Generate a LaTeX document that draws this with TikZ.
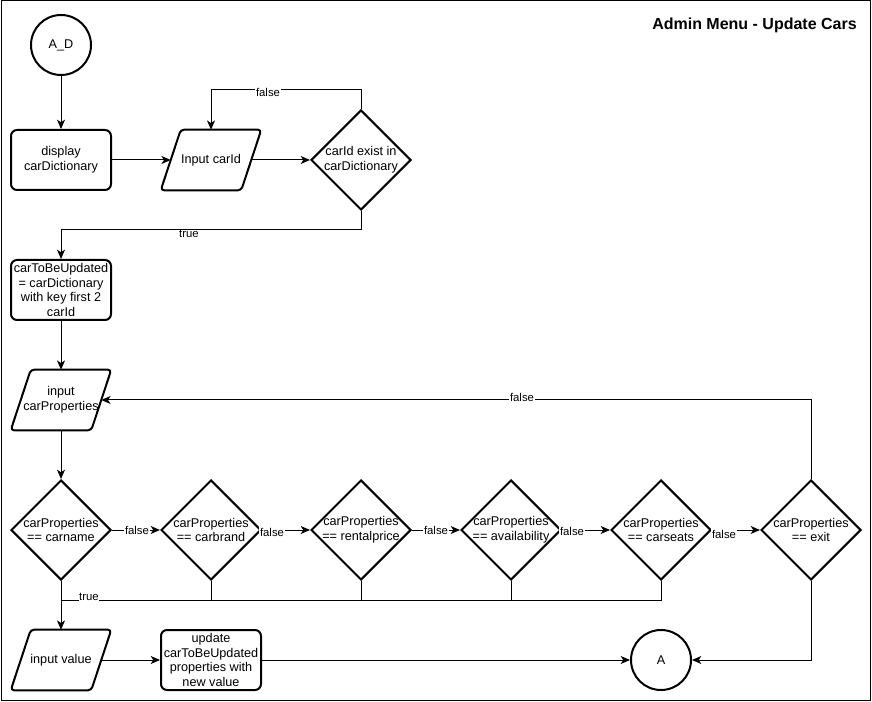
\documentclass[tikz,border=0pt]{standalone}
\usepackage{fontspec}
\setmainfont{Liberation Sans}
\usetikzlibrary{shapes.geometric,arrows.meta}
\begin{document}
\begin{tikzpicture}[x=0.75pt,y=-0.75pt,
    box/.style={draw,line width=1.5pt,rounded corners=4.5pt,minimum width=75pt,minimum height=45pt,
      inner sep=1pt,align=center,font=\fontsize{9.5}{11}\selectfont},
    io/.style={minimum width=60pt,minimum height=45pt,inner sep=1pt,align=center,
      font=\fontsize{9.5}{11}\selectfont,
      append after command={\pgfextra{\draw[line width=1.5pt,rounded corners=2.5pt]
        ([xshift=7.5pt]\tikzlastnode.north west) -- ([xshift=7.5pt]\tikzlastnode.north east)
        -- ([xshift=-7.5pt]\tikzlastnode.south east) -- ([xshift=-7.5pt]\tikzlastnode.south west) -- cycle;}}},
    decision/.style={draw,line width=1.5pt,diamond,minimum width=75pt,minimum height=75pt,
      inner sep=-4pt,align=center,font=\fontsize{9.5}{11}\selectfont},
    term/.style={draw,line width=1.5pt,circle,minimum size=45pt,inner sep=0pt,
      font=\fontsize{9.5}{11}\selectfont},
    flow/.style={line width=0.75pt,-{Stealth[length=7pt,width=6pt,inset=2pt]}},
    wire/.style={line width=0.75pt},
    tag/.style={fill=white,inner sep=0.5pt,font=\fontsize{8.5}{9}\selectfont}]
    \useasboundingbox (0,0) rectangle (872,702);
    \draw[line width=0.75pt] (1,1) rectangle (870,700);
    \node[anchor=east,inner sep=0pt,font=\bfseries\fontsize{12}{14}\selectfont] (title) at (857,25) {Admin Menu - Update Cars};

    % Ablauf oben
    \node[term] (start) at (61,45) {A\_D};
    \node[box] (show) at (61,160) {display\\carDictionary};
    \node[io] (getid) at (211,160) {Input carId};
    \node[decision] (exists) at (361,160) {carId exist in\\carDictionary};
    \node[box] (pick) at (61,290) {carToBeUpdated\\= carDictionary\\with key first 2\\carId};
    \node[io] (getprop) at (61,400) {input\\carProperties};

    \draw[flow] (start) -- (show);
    \draw[flow] (show) -- (getid);
    \draw[flow] (getid) -- (exists);
    \draw[flow] (exists.north) -- (361,90) -- (211,90) -- (getid.north);
    \node[tag] at (268,92) {false};
    \draw[flow] (exists.south) -- (361,230) -- (61,230) -- (pick.north);
    \node[tag] at (189,234) {true};
    \draw[flow] (pick) -- (getprop);

    % Vergleiche
    \node[decision] (isname) at (61,530) {carProperties\\== carname};
    \node[decision] (isbrand) at (211,530) {carProperties\\== carbrand};
    \node[decision] (isprice) at (361,530) {carProperties\\== rentalprice};
    \node[decision] (isavail) at (511,530) {carProperties\\== availability};
    \node[decision] (isseats) at (661,530) {carProperties\\== carseats};
    \node[decision] (isexit) at (811,530) {carProperties\\== exit};

    \draw[flow] (getprop) -- (isname);
    \draw[flow] (isname) -- (isbrand);
    \node[tag] at (137,530) {false};
    \draw[flow] (isbrand) -- (isprice);
    \node[tag] at (272,532) {false};
    \draw[flow] (isprice) -- (isavail);
    \node[tag] at (436,530) {false};
    \draw[flow] (isavail) -- (isseats);
    \node[tag] at (572,531) {false};
    \draw[flow] (isseats) -- (isexit);
    \node[tag] at (724,534) {false};
    \draw[flow] (isexit.north) -- (811,400) -- (getprop.east);
    \node[tag] at (522,397) {false};

    % Ablauf unten
    \node[io] (getval) at (61,660) {input value};
    \node[box] (store) at (211,660) {update\\carToBeUpdated\\properties with\\new value};
    \node[term] (back) at (661,660) {A};

    \coordinate (join) at (61,600);
    \draw[flow] (isname) -- (getval);
    \draw[wire] (isbrand.south) |- (join);
    \draw[wire] (isprice.south) |- (join);
    \draw[wire] (isavail.south) |- (join);
    \draw[wire] (isseats.south) |- (join);
    \node[tag] at (89,597) {true};
    \draw[flow] (getval) -- (store);
    \draw[flow] (store) -- (back);
    \draw[flow] (isexit.south) |- (back.east);
\end{tikzpicture}
\end{document}
